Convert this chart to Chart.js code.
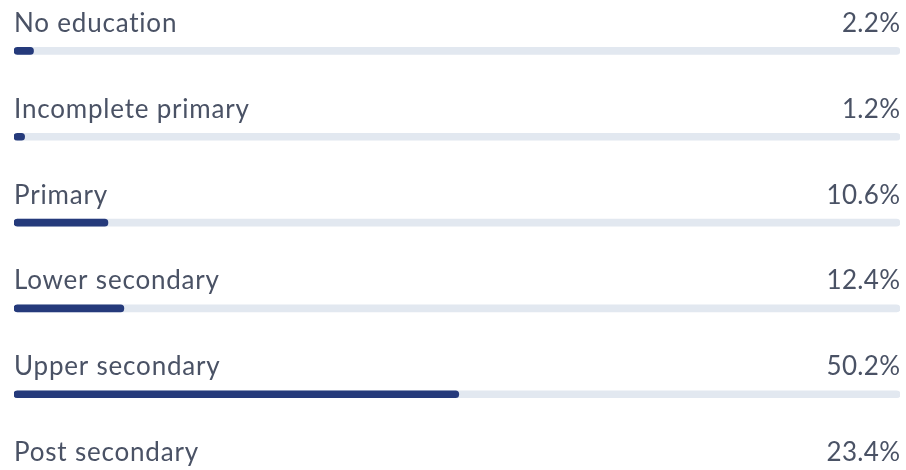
<!DOCTYPE html>
<html>
<head>
<meta charset="utf-8">
<script src="https://cdn.jsdelivr.net/npm/chart.js@4"></script>
<style>
  html, body { margin: 0; padding: 0; background: #fff; overflow: hidden; }
  #wrap { width: 906px; height: 530px; position: relative; }
</style>
</head>
<body>
<div id="wrap"><canvas id="chartEducacion"></canvas></div>
<script>
// Datos
const categorias = ["No education", "Incomplete primary", "Primary", "Lower secondary", "Upper secondary", "Post secondary"];
const porcentajes = [2.2, 1.2, 10.6, 12.4, 50.2, 23.4];
const totales = categorias.map(() => 100);

// Etiquetas encima de cada barra
const etiquetasPlugin = {
  id: "etiquetas",
  afterDatasetsDraw(chart) {
    const { ctx, chartArea, scales } = chart;
    ctx.save();
    ctx.font = "26px Lato";
    ctx.fillStyle = "#4a5265";
    ctx.textBaseline = "alphabetic";
    categorias.forEach((cat, i) => {
      const y = scales.y.getPixelForValue(i) - 19;
      ctx.letterSpacing = "0.8px";
      ctx.textAlign = "left";
      ctx.fillText(cat, chartArea.left, y);
      ctx.letterSpacing = "0.3px";
      ctx.textAlign = "right";
      ctx.fillText(porcentajes[i].toFixed(1) + "%", chartArea.right + 0.3, y);
    });
    ctx.restore();
  },
};

const ctx = document.getElementById("chartEducacion").getContext("2d");
new Chart(ctx, {
  type: "bar",
  data: {
    labels: categorias,
    datasets: [
      {
        data: porcentajes,
        backgroundColor: "#253a7b",
        barThickness: 7,
        borderRadius: 4,
        borderSkipped: false,
        grouped: false,
      },
      {
        data: totales,
        backgroundColor: "#e2e8f0",
        barThickness: 7,
        borderRadius: 4,
        borderSkipped: false,
        grouped: false,
      },
    ],
  },
  options: {
    indexAxis: "y",
    responsive: true,
    maintainAspectRatio: false,
    animation: false,
    layout: { padding: { left: 14, right: 6, top: 8, bottom: 7 } },
    scales: {
      x: { display: false, min: 0, max: 100 },
      y: { display: false },
    },
    plugins: { legend: { display: false }, tooltip: { enabled: false } },
  },
  plugins: [etiquetasPlugin],
});
</script>
</body>
</html>
